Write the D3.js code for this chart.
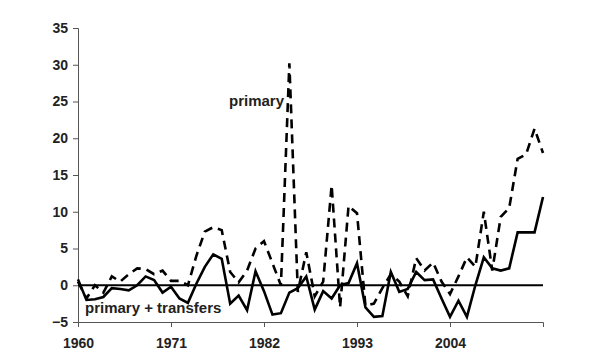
<!DOCTYPE html>
<html><head><meta charset="utf-8">
<script src="https://cdn.jsdelivr.net/npm/d3@7"></script>
<style>body{margin:0;background:#fff}svg{display:block}</style>
</head><body>
<script>
const years = d3.range(1960, 2016);
const primaryTransfers = [
  0.8,-2.0,-1.9,-1.6,-0.4,-0.5,-0.7,0.0,1.2,0.7,
  -1.0,-0.2,-1.8,-2.4,0.2,2.5,4.2,3.6,-2.5,-1.4,
  -3.4,1.9,-0.8,-4.0,-3.8,-1.0,-0.4,1.2,-3.3,-0.8,
  -1.8,0.0,0.3,3.0,-3.0,-4.3,-4.2,1.8,-0.9,-0.5,
  1.8,0.7,0.8,-1.8,-4.3,-2.1,-4.3,0.0,3.8,2.3,
  2.0,2.3,7.2,7.2,7.2,12.0];
const primary = [
  0.5,-1.8,0.0,-1.0,1.2,0.5,1.5,2.3,2.2,1.5,
  2.0,0.6,0.6,0.0,4.0,7.3,7.9,7.5,1.8,0.4,
  2.0,5.0,6.0,3.0,0.0,30.2,-0.9,4.5,-1.5,0.5,
  13.6,-3.0,10.8,9.8,-2.8,-2.5,-0.4,1.5,0.5,-1.5,
  3.7,2.0,3.1,0.5,-1.2,1.2,3.8,2.5,10.0,2.0,
  9.3,10.5,17.2,17.8,21.3,18.0];
const yTicks = [-5,0,5,10,15,20,25,30,35];
const xTicks = [1960,1971,1982,1993,2004];
const labelPrimary = "primary";
const labelPT = "primary + transfers";

const W = 600, H = 360;
const svg = d3.select("body").append("svg").attr("width", W).attr("height", H);
const x = d3.scaleLinear().domain([1960, 2015]).range([78, 543]);
const y = d3.scaleLinear().domain([-5, 35]).range([322, 28]);
const font = "'Liberation Sans', Arial, sans-serif";

const gy = svg.append("g").attr("transform", "translate(78,0)")
  .call(d3.axisLeft(y).tickValues(yTicks).tickSize(5).tickPadding(5).tickFormat(d3.format("d")));
const gx = svg.append("g").attr("transform", "translate(0,322)")
  .call(d3.axisBottom(x).tickValues(xTicks).tickSize(5).tickPadding(11).tickFormat(d3.format("d")));
[gx, gy].forEach(g => {
  g.select(".domain").attr("stroke", "#555").attr("stroke-width", 1);
  g.selectAll(".tick line").attr("stroke", "#555");
  g.selectAll("text").attr("font-family", font).attr("font-size", 14)
    .attr("font-weight", "bold").attr("fill", "#222");
});

// zero line
svg.append("line").attr("x1", x(1960)).attr("x2", x(2015))
  .attr("y1", y(0)).attr("y2", y(0)).attr("stroke", "#000").attr("stroke-width", 2);

const line = arr => d3.line().x((d, i) => x(years[i])).y(d => y(d))(arr);
svg.append("path").attr("d", line(primary)).attr("fill", "none")
  .attr("stroke", "#000").attr("stroke-width", 2.6).attr("stroke-dasharray", "9,6");
svg.append("path").attr("d", line(primaryTransfers)).attr("fill", "none")
  .attr("stroke", "#000").attr("stroke-width", 2.6).attr("stroke-linejoin", "miter");

svg.append("text").attr("x", 229).attr("y", 106).text(labelPrimary)
  .attr("font-family", font).attr("font-size", 15).attr("font-weight", "bold").attr("fill", "#222");
svg.append("text").attr("x", 85).attr("y", 313).text(labelPT)
  .attr("font-family", font).attr("font-size", 15).attr("font-weight", "bold").attr("fill", "#222");
</script>
</body></html>
